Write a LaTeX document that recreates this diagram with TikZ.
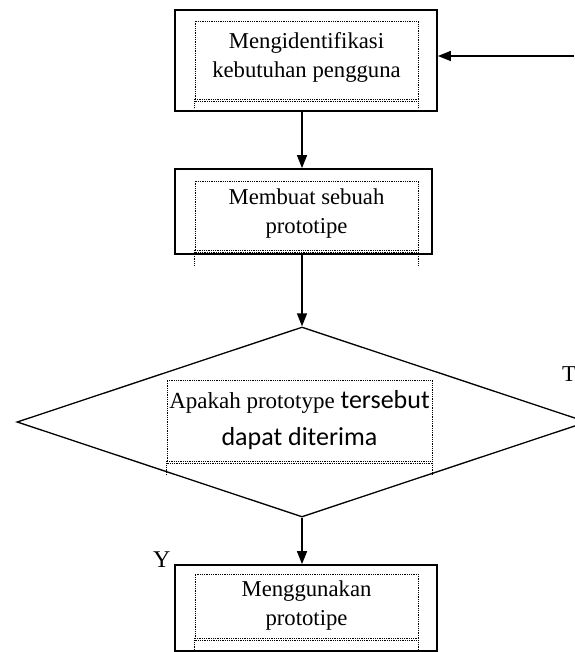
\documentclass[tikz,border=0pt]{standalone}
\usepackage{fontspec}
\setmainfont{Liberation Serif}
\newfontfamily\calibri{Carlito}
\usetikzlibrary{arrows.meta,shapes.geometric}

\tikzset{
  outbox/.style={draw, line width=1.7pt, inner sep=0pt},
  inframe/.style={draw, densely dotted, line width=0.8pt},
  txt/.style={inframe, inner sep=0pt, align=center,
    font=\fontsize{22.7}{29}\selectfont},
  arr/.style={line width=1.4pt, -{Triangle[length=13pt,width=10pt]}},
}

\begin{document}
\begin{tikzpicture}[x=1pt,y=-1pt]
  \useasboundingbox (0,0) rectangle (574,652);
  % kotak luar
  \node[outbox, minimum width=262pt, minimum height=101pt] (b1) at (306,60.5) {};
  \node[outbox, minimum width=257pt, minimum height=85pt] (b2) at (303.5,211.5) {};
  \node[draw, shape=diamond, line width=1.3pt, inner sep=0pt,
    minimum width=570pt, minimum height=190pt] (dia) at (302,422) {};
  \node[outbox, minimum width=262pt, minimum height=86pt] (b4) at (306,608) {};
  % teks
  \node[txt, minimum width=223pt, minimum height=78pt, text depth=9pt] (t1) at (306.5,60)
    {Mengidentifikasi\\kebutuhan pengguna};
  \node[txt, minimum width=223pt, minimum height=69pt, text depth=9pt] (t2) at (306.5,215.5)
    {Membuat sebuah\\prototipe};
  \node[inframe, inner sep=0pt, align=center, minimum width=265pt, minimum height=81pt,
    font=\calibri\fontsize{26}{37}\selectfont] (t3) at (299.5,420.5)
    {{\fontsize{23}{37}\selectfont\rmfamily Apakah prototype} tersebut\\dapat diterima};
  \node[txt, minimum width=223pt, minimum height=64pt] (t4) at (306.5,606)
    {Menggunakan\\prototipe};
  % garis titik tambahan
  \foreach \n/\d in {t1/9,t2/16,t3/14,t4/13}{
    \draw[densely dotted, line width=0.8pt] ([yshift=-2pt]\n.south west) -- ([yshift=-2pt]\n.south east);
    \draw[densely dotted, line width=0.8pt] (\n.south west) -- ++(0,\d);
    \draw[densely dotted, line width=0.8pt] (\n.south east) -- ++(0,\d);
  }
  % panah
  \coordinate (balik) at (574,56);
  \draw[arr] (balik) -- (balik -| b1.east);
  \draw[arr] (b1.south -| dia.north) -- (b2.north -| dia.north);
  \draw[arr] (b2.south -| dia.north) -- (dia.north);
  \draw[arr] (dia.south) -- (b4.north -| dia.south);
  % label
  \node[anchor=base west, inner sep=0pt, font=\fontsize{22.7}{29}\selectfont] (lt) at (562,381) {T};
  \node[anchor=base west, inner sep=0pt, font=\fontsize{24}{29}\selectfont] (ly) at (153,567) {Y};
\end{tikzpicture}
\end{document}
